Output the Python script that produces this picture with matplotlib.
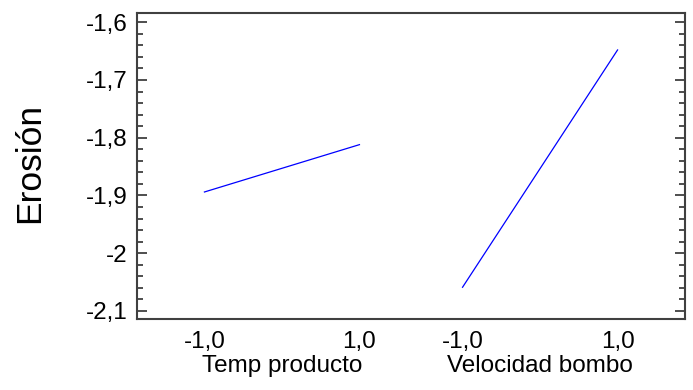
import numpy as np
import matplotlib.pyplot as plt
from matplotlib.ticker import FixedLocator, MultipleLocator
import matplotlib.transforms as mtransforms

plt.rcParams['font.family'] = ['Liberation Sans', 'DejaVu Sans']

# main effects for each factor (low, high level)
factors = ["Temp producto", "Velocidad bombo"]
levels = [-1.0, 1.0]
level_labels = ["-1,0", "1,0"]
effects = [
    [-1.894, -1.812],
    [-2.059, -1.648],
]
ytick_vals = [-2.1, -2.0, -1.9, -1.8, -1.7, -1.6]
ytick_labels = ["-2,1", "-2", "-1,9", "-1,8", "-1,7", "-1,6"]

# horizontal offset between factor panels
spacing = 3.33

fig = plt.figure(figsize=(6.93, 3.90), dpi=100)
ax = fig.add_axes([137 / 693, 1 - 319 / 390, 548 / 693, 306 / 390])

xticks = []
xlabels = []
for i, name in enumerate(factors):
    xs = np.array(levels) + i * spacing
    ax.plot(xs, effects[i], color="#0000ff", linewidth=0.9)
    xticks += list(xs)
    xlabels += level_labels
    trans = mtransforms.blended_transform_factory(ax.transData, ax.transAxes)
    ax.text(xs.mean(), -0.172, name, transform=trans, ha="center",
            va="baseline", fontsize=17.5, color="black")

ax.set_xlim(-1.87, spacing + 1.87)
ax.set_ylim(-2.114, -1.584)

ax.set_xticks(xticks)
ax.set_xticklabels(xlabels, fontsize=17.5)
ax.tick_params(axis="x", length=0, pad=8.6)

ax.yaxis.set_major_locator(FixedLocator(ytick_vals))
ax.set_yticklabels(ytick_labels, fontsize=17.5)
ax.yaxis.set_minor_locator(MultipleLocator(0.02))
ax.tick_params(axis="y", which="both", direction="in", left=True, right=True,
               color="#404040", width=1.3, pad=7)
ax.tick_params(axis="y", which="major", length=7.5)
ax.tick_params(axis="y", which="minor", length=4)

for sp in ax.spines.values():
    sp.set_color("#404040")
    sp.set_linewidth(1.5)

fig.text(30 / 693, 1 - 163 / 390, "Erosión", rotation=90, ha="center",
         va="center", fontsize=25.5)

fig.savefig("out.png", dpi=100)
